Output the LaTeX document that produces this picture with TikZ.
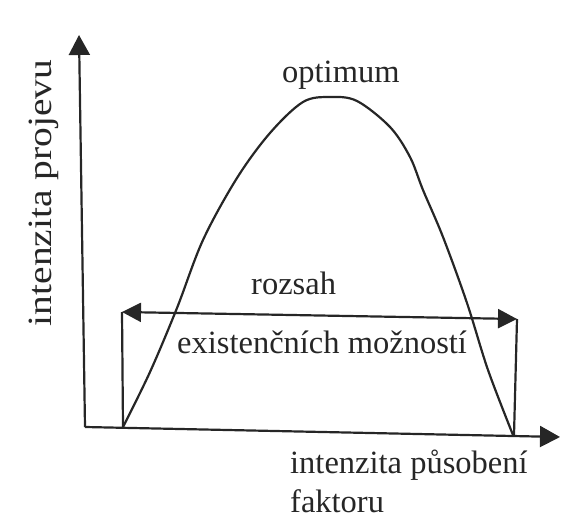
\documentclass[tikz,border=0pt]{standalone}
\usepackage{fontspec}
\setmainfont{Liberation Serif}
\usetikzlibrary{arrows.meta}
\definecolor{ink}{HTML}{262626}
\tikzset{
  axisline/.style={draw=ink, line width=2.2pt, -{Triangle[length=20pt,width=21pt]}},
  rangeline/.style={draw=ink, line width=2.2pt, {Triangle[length=19pt,width=19pt]}-{Triangle[length=19pt,width=19pt]}},
  plainline/.style={draw=ink, line width=2.2pt},
  lbl/.style={text=ink, font=\fontsize{32.5}{38}\selectfont, inner sep=0pt, anchor=base west}
}
\begin{document}
\begin{tikzpicture}[x=1pt,y=-1pt]
\useasboundingbox (0,0) rectangle (562,526);
% coordinates
\coordinate (O) at (85,427);
\coordinate (Ytip) at (79,35);
\coordinate (Xtip) at (560,437);
\coordinate (L1) at (122,312);
\coordinate (L0) at (123,427);
\coordinate (R1) at (517,319);
\coordinate (R0) at (514,435);
% axes
\draw[axisline] (O) -- (Ytip);
\draw[axisline] (O) -- (Xtip);
% vertical bounds
\draw[plainline] (L0) -- (L1);
\draw[plainline] (R0) -- (R1);
% range arrow
\draw[rangeline] (L1) -- (R1);
% curve
\draw[plainline, line join=round] plot[smooth, tension=0.55] coordinates {
 (123,427) (150,372) (177,308) (203,240) (237,178) (270,133) (303,102)
 (330,97) (357,101) (390,127) (410,157) (423,190) (443,237) (467,303)
 (488,370) (513,435)};
% labels
\node[lbl] (opt) at (282,83) {optimum};
\node[lbl] (roz) at (251,295) {rozsah};
\node[lbl] (exi) at (177,353) {existenčních možností};
\node[lbl] (xl1) at (290,473) {intenzita působení};
\node[lbl] (xl2) at (290,512) {faktoru};
\node[text=ink, inner sep=0pt, anchor=base, rotate=90] (yl) at (51,193)
  {\scalebox{1.16}[1]{\fontsize{34}{40}\selectfont intenzita projevu}};
\end{tikzpicture}
\end{document}
